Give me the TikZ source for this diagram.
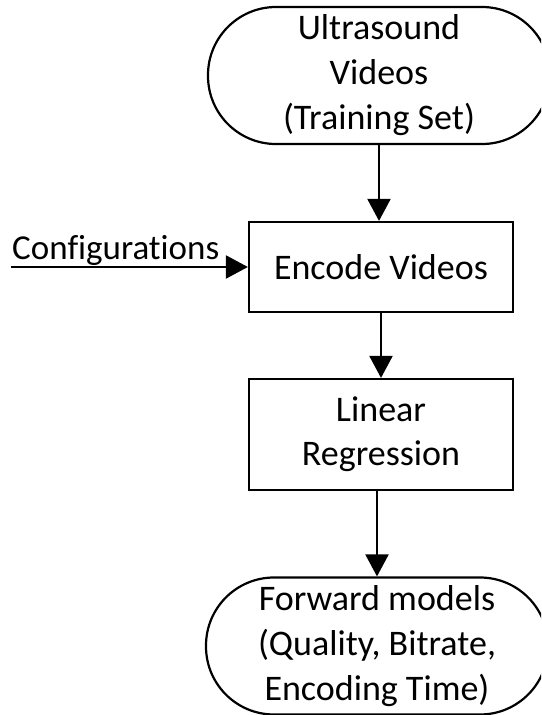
\documentclass[tikz,border=0pt]{standalone}
\usepackage{fontspec}
\setmainfont{Carlito}[Ligatures=NoCommon]
\usetikzlibrary{arrows.meta}
\tikzset{
  terminal/.style={draw, line width=2.2pt, rounded corners=68pt,
    minimum width=342pt, minimum height=137pt, align=center, inner sep=0pt,
    font=\fontsize{36}{45}\selectfont},
  process/.style={draw, line width=2.2pt, minimum width=264pt,
    align=center, inner sep=0pt, font=\fontsize{36}{44}\selectfont},
  link/.style={line width=2.2pt, -{Triangle[length=22pt,width=23pt]}},
  label/.style={inner sep=0pt, font=\fontsize{35}{44}\selectfont},
}
\begin{document}
\begin{tikzpicture}[x=1pt,y=-1pt]
  \fill[white] (0,0) rectangle (541,715);
  \clip (0,0) rectangle (541,715);

  % flowchart blocks
  \node[terminal] (train) at (379,75.5) {Ultrasound\\Videos\\(Training Set)};
  \node[process, minimum height=90pt] (enc) at (381,267) {Encode Videos};
  \node[process, minimum height=111pt] (lr) at (381,434.5) {Linear\\Regression};
  \node[terminal] (fwd) at (377,646) {Forward models\\(Quality, Bitrate,\\Encoding Time)};

  % side input
  \coordinate (cfg) at (11,267);
  \node[label, anchor=base west] (cfglabel) at (12,259) {Configurations};

  % connectors
  \draw[link] (train.south) -- (train.south |- enc.north);
  \draw[link] (cfg) -- (enc.west);
  \draw[link] (enc.south) -- (lr.north);
  \draw[link] (fwd.north |- lr.south) -- (fwd.north);
\end{tikzpicture}
\end{document}
